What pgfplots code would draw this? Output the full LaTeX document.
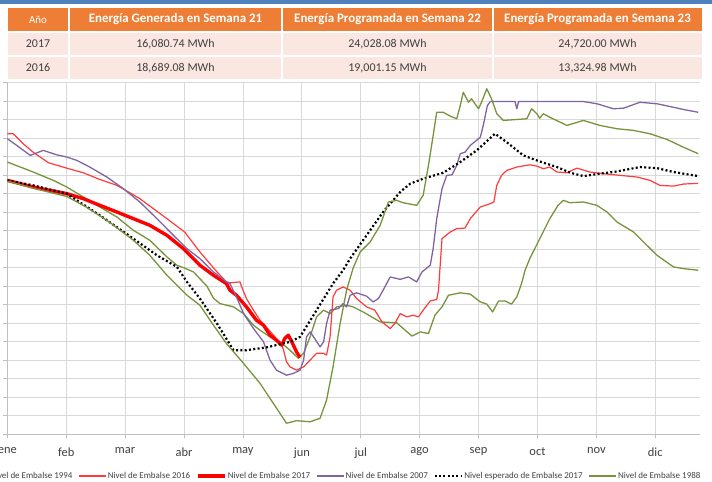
\documentclass[border=0pt]{standalone}
\usepackage{fontspec}
\setmainfont{Carlito}
\usepackage{pgfplots}
\pgfplotsset{compat=1.18}
\definecolor{hdr}{HTML}{EE7D35}
\definecolor{rowc}{HTML}{FBE7E1}
\definecolor{txt}{HTML}{404040}
\definecolor{grn}{HTML}{77933C}
\definecolor{prp}{HTML}{8064A2}
\definecolor{rd}{HTML}{FF3B3B}
\definecolor{rdk}{HTML}{FF0000}
\definecolor{gridc}{HTML}{D9D9D9}
\definecolor{axc}{HTML}{BFBFBF}
\definecolor{blu}{HTML}{4F81BD}
\begin{document}
\begin{tikzpicture}[x=1bp,y=1bp]
% top blue band
\fill[blu] (0,478) rectangle (712,482);
% table header
\fill[hdr] (8,451) rectangle (702,474);
\fill[rowc] (8,427) rectangle (702,449);
\fill[rowc] (8,403) rectangle (702,425);
\foreach \xx in {69,282,493} {\draw[white,line width=1.5bp] (\xx,403) -- (\xx,474);}
\node[text=white,font=\fontsize{11}{11}\selectfont] at (38,462.5) {Año};
\node[text=white,font=\bfseries\fontsize{13}{13}\selectfont] at (175.5,462.5) {Energía Generada en Semana 21};
\node[text=white,font=\bfseries\fontsize{13}{13}\selectfont] at (387.5,462.5) {Energía Programada en Semana 22};
\node[text=white,font=\bfseries\fontsize{13}{13}\selectfont] at (597.5,462.5) {Energía Programada en Semana 23};
\begin{scope}[every node/.style={text=txt,font=\fontsize{12}{12}\selectfont}]
\node at (38,438) {2017};
\node at (175.5,438) {16,080.74 MWh};
\node at (387.5,438) {24,028.08 MWh};
\node at (597.5,438) {24,720.00 MWh};
\node at (38,414) {2016};
\node at (175.5,414) {18,689.08 MWh};
\node at (387.5,414) {19,001.15 MWh};
\node at (597.5,414) {13,324.98 MWh};
\end{scope}
\begin{axis}[
  at={(7.3bp,48bp)}, anchor=south west, scale only axis,
  width=692.7bp, height=351.5bp,
  xmin=0, xmax=11.76, ymin=0, ymax=19,
  axis x line*=bottom, axis y line*=left,
  xtick={0,...,11},
  xticklabels={ene,feb,mar,abr,may,jun,jul,ago,sep,oct,nov,dic},
  ytick={0,...,19}, yticklabels={},
  grid=major,
  major grid style={gridc, line width=0.8bp},
  axis line style={draw=axc, line width=0.9bp},
  tick style={axc, line width=0.8bp},
  tick align=outside, major tick length=4bp,
  xticklabel style={font=\fontsize{12.5}{12.5}\selectfont, text=txt, yshift=-6bp},
  legend columns=6,
  legend style={at={(1.003,-0.1195)}, anchor=east, draw=none, fill=none,
    font=\fontsize{9}{9}\selectfont, text=txt, inner sep=0pt,
    /tikz/every even column/.append style={column sep=4.2bp},
    nodes={inner sep=1.5bp}},
  legend image code/.code={\draw[#1] (0bp,0bp) -- (27bp,0bp);},
  every axis plot/.append style={line join=round},
]
% Nivel de Embalse 1994
\addplot[grn, line width=1.3bp] coordinates {
(0,14.70) (0.44,14.16) (0.78,13.71) (1.01,13.35) (1.29,12.81) (1.57,12.27) (1.86,11.73)
(2.14,11.01) (2.42,10.47) (2.71,9.57) (2.88,9.12) (3.01,8.97) (3.16,8.76) (3.39,7.99)
(3.50,7.34) (3.61,7.05) (3.84,6.87) (4.01,6.51) (4.18,5.88) (4.29,5.61) (4.46,5.25)
(4.63,4.98) (4.80,4.53) (4.94,4.09) (5.03,4.36) (5.14,5.25) (5.25,6.33) (5.37,6.69)
(5.48,6.51) (5.59,6.87) (5.76,6.96) (5.87,6.87) (6.04,6.60) (6.33,6.06) (6.61,6.01)
(6.87,5.29) (7.01,5.52) (7.15,5.43) (7.26,6.42) (7.38,6.87) (7.49,7.50) (7.69,7.63)
(7.86,7.56) (8.03,7.14) (8.14,7.02) (8.24,6.60) (8.34,7.19) (8.45,7.19) (8.56,7.02)
(8.65,7.41) (8.73,8.13) (8.79,8.85) (8.87,9.48) (9.04,10.56) (9.21,11.64) (9.35,12.36)
(9.44,12.63) (9.55,12.50) (9.78,12.54) (10.01,12.36) (10.18,12.00) (10.35,11.46)
(10.63,10.92) (10.80,10.38) (11.03,9.66) (11.31,9.03) (11.48,8.94) (11.73,8.85)
};
\addlegendentry{Nivel de Embalse 1994}
% Nivel de Embalse 2016
\addplot[rd, line width=1.2bp] coordinates {
(0,16.23) (0.10,16.23) (0.27,15.69) (0.44,15.23) (0.70,14.66) (1.01,14.37) (1.29,14.12)
(1.57,13.76) (1.86,13.44) (2.01,13.17) (2.25,12.72) (2.48,12.18) (2.71,11.64) (3.01,10.92)
(3.27,9.84) (3.56,8.76) (3.72,8.22) (3.78,8.17) (3.95,8.22) (3.98,7.95) (4.06,7.32)
(4.18,6.69) (4.29,6.15) (4.52,5.34) (4.66,4.80) (4.69,4.53) (4.74,3.90) (4.80,3.63)
(4.91,3.45) (5.03,3.63) (5.14,3.99) (5.25,4.36) (5.37,4.36) (5.42,4.26) (5.48,5.25)
(5.53,7.41) (5.59,7.77) (5.70,7.95) (5.82,7.77) (5.93,7.32) (6.10,6.87) (6.24,6.69)
(6.36,6.06) (6.50,5.70) (6.58,5.97) (6.67,6.51) (6.78,6.33) (6.89,6.42) (6.98,6.33)
(7.06,6.69) (7.18,7.19) (7.29,7.27) (7.32,7.77) (7.38,10.56) (7.52,10.92) (7.63,11.10)
(7.77,11.13) (7.86,11.64) (8.03,12.27) (8.20,12.45) (8.26,12.54) (8.31,13.44) (8.39,13.98)
(8.48,14.25) (8.65,14.43) (8.87,14.55) (8.99,14.48) (9.10,14.34) (9.21,14.43) (9.33,14.16)
(9.50,14.12) (9.67,14.37) (9.89,14.16) (10.12,14.07) (10.40,13.98) (10.69,13.89)
(10.91,13.71) (11.08,13.44) (11.31,13.40) (11.48,13.51) (11.73,13.55)
};
\addlegendentry{Nivel de Embalse 2016}
% Nivel de Embalse 2017
\addplot[rdk, line width=3.4bp] coordinates {
(0,13.71) (0.22,13.53) (0.44,13.35) (0.72,13.17) (1.01,12.99) (1.29,12.72) (1.57,12.36)
(1.86,12.00) (2.14,11.64) (2.42,11.28) (2.71,10.74) (2.99,10.02) (3.27,9.12) (3.50,8.58)
(3.72,8.13) (3.78,7.77) (3.89,7.50) (4.06,6.87) (4.23,6.15) (4.35,5.88) (4.46,5.34)
(4.57,5.07) (4.66,4.80) (4.71,5.16) (4.77,5.34) (4.83,4.98) (4.91,4.44) (4.97,4.14)
};
\addlegendentry{Nivel de Embalse 2017}
% Nivel de Embalse 2007
\addplot[prp, line width=1.3bp] coordinates {
(0,15.96) (0.16,15.60) (0.39,15.06) (0.61,15.33) (0.84,15.09) (1.01,14.97) (1.18,14.79)
(1.40,14.43) (1.69,13.89) (1.97,13.26) (2.25,12.54) (2.54,11.64) (2.82,10.74) (3.05,10.02)
(3.27,9.48) (3.50,8.76) (3.72,8.22) (3.78,8.13) (3.89,7.41) (4.01,6.51) (4.18,5.70)
(4.35,4.98) (4.46,3.99) (4.57,3.45) (4.74,3.18) (4.86,3.28) (4.97,3.45) (5.03,3.99)
(5.08,5.25) (5.14,5.52) (5.20,5.25) (5.31,4.71) (5.37,4.98) (5.42,5.97) (5.48,6.69)
(5.62,6.78) (5.70,7.05) (5.76,6.87) (5.82,7.50) (5.93,7.63) (6.10,7.45) (6.21,7.14)
(6.30,7.32) (6.38,7.77) (6.50,8.49) (6.67,8.36) (6.81,8.49) (6.95,8.22) (7.04,8.76)
(7.18,9.12) (7.23,10.02) (7.29,11.64) (7.38,13.26) (7.46,13.98) (7.55,14.01) (7.63,14.52)
(7.69,15.15) (7.77,15.23) (7.86,15.60) (8.03,16.04) (8.08,16.68) (8.15,17.75) (8.20,17.97)
(8.42,17.97) (8.62,17.97) (8.65,17.58) (8.68,17.97) (9.21,17.97) (9.78,17.97) (10.01,17.85)
(10.29,17.58) (10.46,17.61) (10.74,17.93) (11.03,17.85) (11.31,17.66) (11.48,17.54)
(11.73,17.39)
};
\addlegendentry{Nivel de Embalse 2007}
% Nivel esperado de Embalse 2017
\addplot[black, line width=2.2bp, dash pattern=on 2bp off 2.3bp, line cap=butt] coordinates {
(0,13.71) (0.44,13.44) (1.01,12.99) (1.57,11.82) (2.14,10.56) (2.54,9.66) (2.88,9.03)
(3.05,8.22) (3.27,7.32) (3.56,5.97) (3.84,4.53) (4.06,4.53) (4.40,4.68) (4.80,4.98)
(4.97,5.25) (5.25,6.69) (5.53,8.13) (5.70,8.85) (5.82,9.48) (6.10,10.74) (6.38,12.00)
(6.67,13.08) (6.84,13.53) (7.06,13.80) (7.40,14.12) (7.69,14.70) (7.97,15.33) (8.28,16.23)
(8.48,15.77) (8.76,15.06) (9.04,14.73) (9.33,14.43) (9.56,14.12) (9.78,13.94) (10.06,14.07)
(10.35,14.19) (10.74,14.43) (11.03,14.37) (11.31,14.16) (11.73,13.94)
};
\addlegendentry{Nivel esperado de Embalse 2017}
% Nivel de Embalse 1988
\addplot[grn, line width=1.3bp] coordinates {
(0,13.67) (0.44,13.28) (1.01,12.84) (1.35,12.25) (1.74,11.44) (2.14,10.47) (2.42,9.66)
(2.71,8.58) (3.05,7.50) (3.27,6.96) (3.50,5.88) (3.72,4.89) (4.01,3.82) (4.29,2.74)
(4.57,1.40) (4.74,0.58) (4.91,0.72) (5.14,0.66) (5.31,0.85) (5.42,1.83) (5.53,3.63)
(5.65,5.97) (5.76,7.77) (5.87,8.96) (5.99,9.84) (6.16,10.38) (6.33,11.28) (6.47,12.54)
(6.61,12.63) (6.72,12.50) (6.95,12.36) (7.06,12.90) (7.15,14.52) (7.23,16.14) (7.29,17.39)
(7.40,17.39) (7.52,17.18) (7.63,17.04) (7.69,17.75) (7.74,18.47) (7.83,17.93) (7.88,18.12)
(8.00,17.58) (8.05,17.93) (8.14,18.66) (8.22,18.12) (8.31,17.31) (8.42,16.95) (8.65,17.00)
(8.82,17.04) (8.90,17.58) (8.99,17.31) (9.04,17.07) (9.10,17.31) (9.21,17.12) (9.50,16.68)
(9.78,16.95) (10.06,16.68) (10.35,16.50) (10.63,16.41) (10.91,16.23) (11.20,15.92)
(11.48,15.50) (11.73,15.15)
};
\addlegendentry{Nivel de Embalse 1988}
\end{axis}
\pgfresetboundingbox
\useasboundingbox (0,0) rectangle (712,482);
\end{tikzpicture}
\end{document}
